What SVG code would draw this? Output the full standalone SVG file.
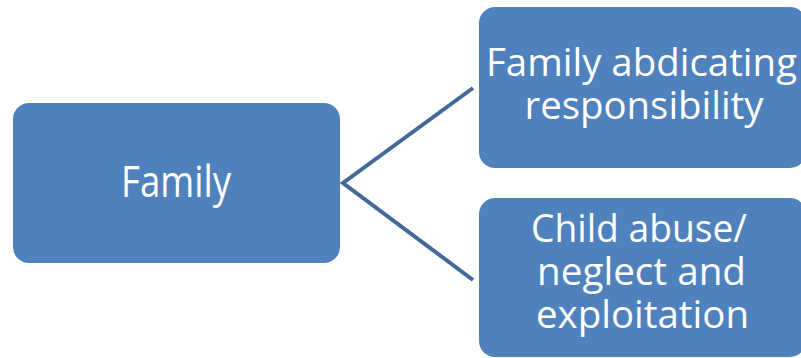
<svg xmlns="http://www.w3.org/2000/svg" width="801" height="358" viewBox="0 0 801 358">
<style>
.box{fill:#4F81BD;}
.lbl{fill:#FFFFFF;font-family:"Open Sans","Noto Sans","DejaVu Sans",sans-serif;text-anchor:middle;}
.big{font-size:43px;}
.sm{font-size:38px;}
.conn{stroke:#41699A;stroke-width:4;fill:none;}
</style>
<rect width="801" height="358" fill="#FFFFFF"/>
<g id="connectors">
<polyline class="conn" points="473,88 343,183 473,280"/>
</g>
<g id="node-family">
<rect class="box" x="13" y="103" width="327" height="160" rx="16"/>
<text class="lbl big" x="176" y="197" textLength="110" lengthAdjust="spacingAndGlyphs">Family</text>
</g>
<g id="node-abdicating">
<rect class="box" x="479" y="7" width="327" height="161" rx="16"/>
<text class="lbl sm" x="641.5" y="76" textLength="311" lengthAdjust="spacingAndGlyphs">Family abdicating</text>
<text class="lbl sm" x="644" y="119" textLength="239" lengthAdjust="spacingAndGlyphs">responsibility</text>
</g>
<g id="node-abuse">
<rect class="box" x="479" y="198" width="327" height="159" rx="16"/>
<text class="lbl sm" x="639" y="242" textLength="216" lengthAdjust="spacingAndGlyphs">Child abuse/</text>
<text class="lbl sm" x="641.5" y="285" textLength="209" lengthAdjust="spacingAndGlyphs">neglect and</text>
<text class="lbl sm" x="642.5" y="328" textLength="213" lengthAdjust="spacingAndGlyphs">exploitation</text>
</g>
</svg>
